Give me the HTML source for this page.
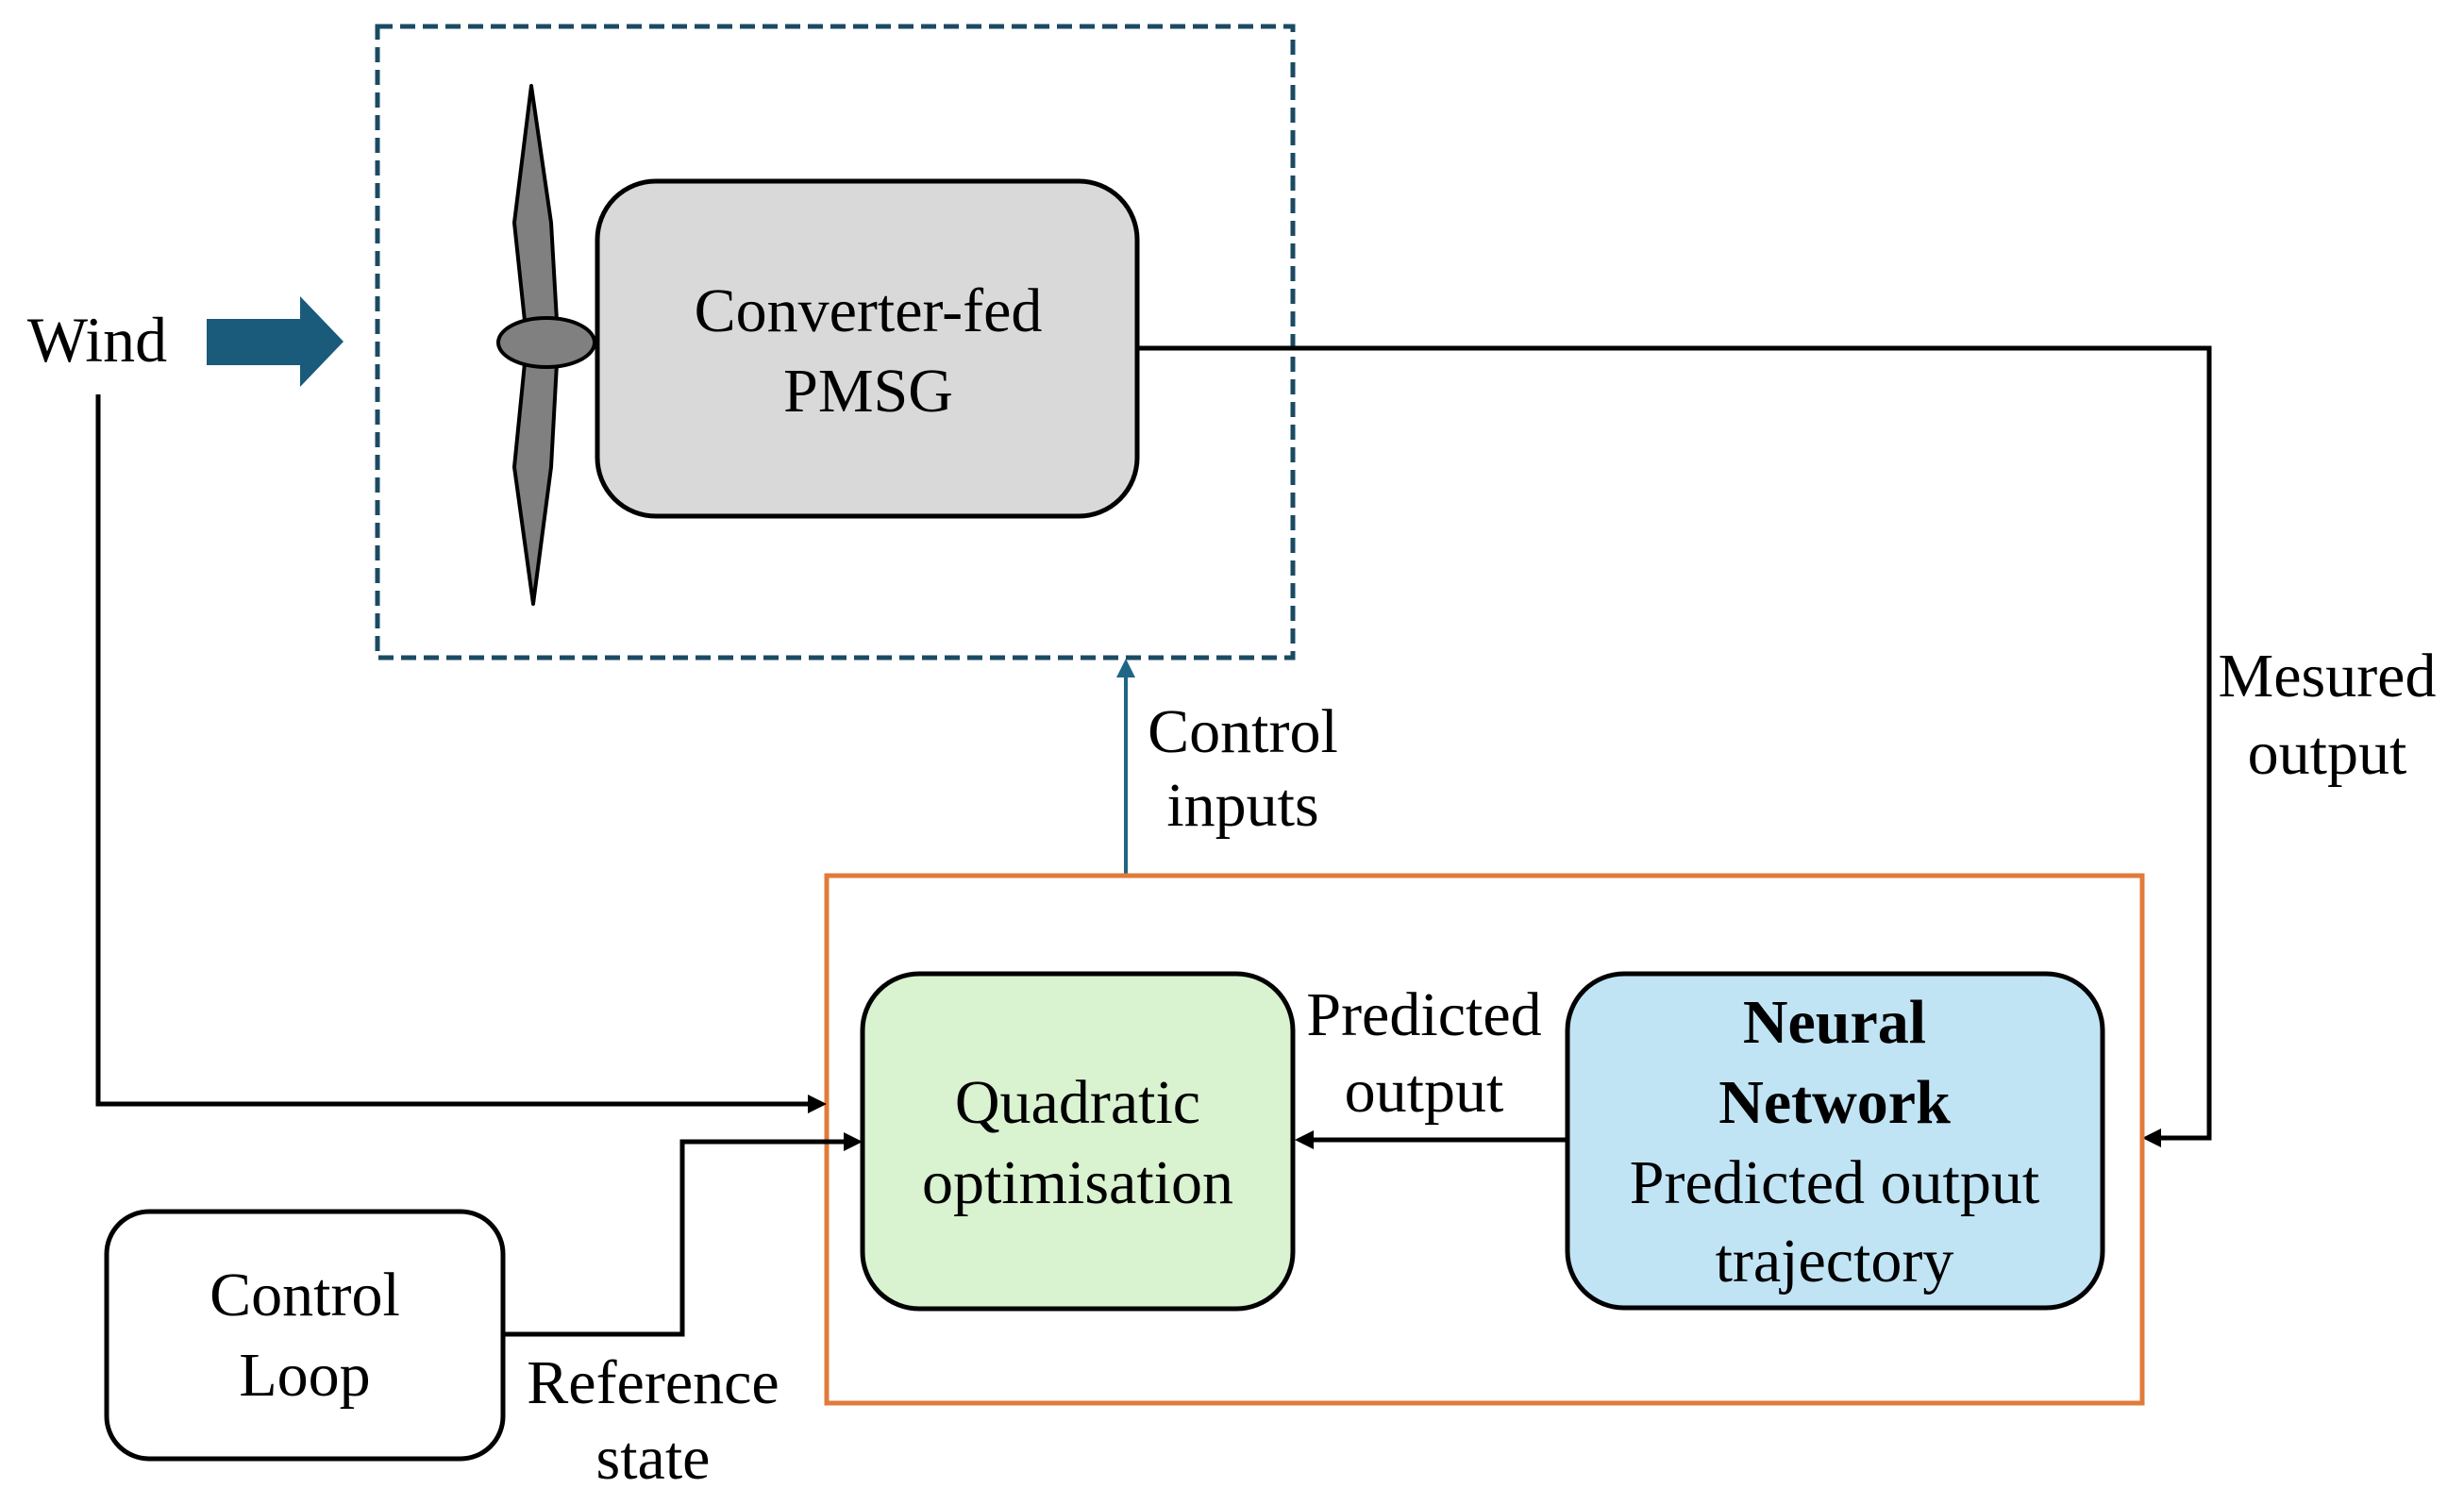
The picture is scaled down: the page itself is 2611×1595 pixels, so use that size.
<!DOCTYPE html>
<html><head><style>html,body{margin:0;padding:0;background:#fff}svg{display:block}svg text{font-family:"Liberation Serif","Times New Roman",serif;font-size:66px}</style></head><body>
<svg width="2611" height="1595" viewBox="0 0 2611 1595" xmlns="http://www.w3.org/2000/svg" text-anchor="middle">
<rect x="400" y="28" width="970" height="669" fill="none" stroke="#1b4a63" stroke-width="5" stroke-dasharray="16,8"/>
<text x="103" y="383" style="font-size:68px">Wind</text>
<polygon points="219,338 318,338 318,314 364,362 318,410 318,387 219,387" fill="#1a5a7a"/>
<polyline points="1205,369 2341,369 2341,1206 2275,1206" fill="none" stroke="#000" stroke-width="5"/>
<polygon points="2270,1206 2290,1196 2290,1216" fill="#000"/>
<polygon points="563,91 545,236 556,340 590,340 584,236" fill="#808080" stroke="#000" stroke-width="4" stroke-linejoin="round"/>
<polygon points="556,385 545,495 565,640 584,495 590,385" fill="#808080" stroke="#000" stroke-width="4" stroke-linejoin="round"/>
<ellipse cx="579" cy="363" rx="51" ry="26" fill="#808080" stroke="#000" stroke-width="4"/>
<rect x="633" y="192" width="572" height="355" rx="62" fill="#d9d9d9" stroke="#000" stroke-width="5"/>
<text x="920" y="351">Converter-fed</text>
<text x="920" y="436">PMSG</text>
<line x1="1193" y1="928" x2="1193" y2="715" stroke="#1f6585" stroke-width="4"/>
<polygon points="1193,698 1183,718 1203,718" fill="#1f6585"/>
<text x="1317" y="797">Control</text>
<text x="1317" y="875">inputs</text>
<text x="2466" y="738">Mesured</text>
<text x="2466" y="820">output</text>
<rect x="876" y="928" width="1394" height="559" fill="none" stroke="#e07b39" stroke-width="5"/>
<polyline points="104,418 104,1170 860,1170" fill="none" stroke="#000" stroke-width="5"/>
<polygon points="876,1170 856,1160 856,1180" fill="#000"/>
<rect x="914" y="1032" width="456" height="355" rx="60" fill="#d9f2d0" stroke="#000" stroke-width="5"/>
<text x="1142" y="1190">Quadratic</text>
<text x="1142" y="1275">optimisation</text>
<rect x="1661" y="1032" width="567" height="354" rx="60" fill="#c1e4f5" stroke="#000" stroke-width="5"/>
<text x="1944" y="1105" font-weight="bold">Neural</text>
<text x="1944" y="1190" font-weight="bold">Network</text>
<text x="1944" y="1275">Predicted output</text>
<text x="1944" y="1358">trajectory</text>
<line x1="1661" y1="1208" x2="1390" y2="1208" stroke="#000" stroke-width="5"/>
<polygon points="1372,1208 1392,1198 1392,1218" fill="#000"/>
<text x="1509" y="1097">Predicted</text>
<text x="1509" y="1178">output</text>
<rect x="113" y="1284" width="420" height="262" rx="45" fill="#fff" stroke="#000" stroke-width="5"/>
<text x="323" y="1394">Control</text>
<text x="323" y="1479">Loop</text>
<polyline points="533,1414 723,1414 723,1210 897,1210" fill="none" stroke="#000" stroke-width="5"/>
<polygon points="914,1210 894,1200 894,1220" fill="#000"/>
<text x="692" y="1487">Reference</text>
<text x="692" y="1567">state</text>
</svg>
</body></html>
